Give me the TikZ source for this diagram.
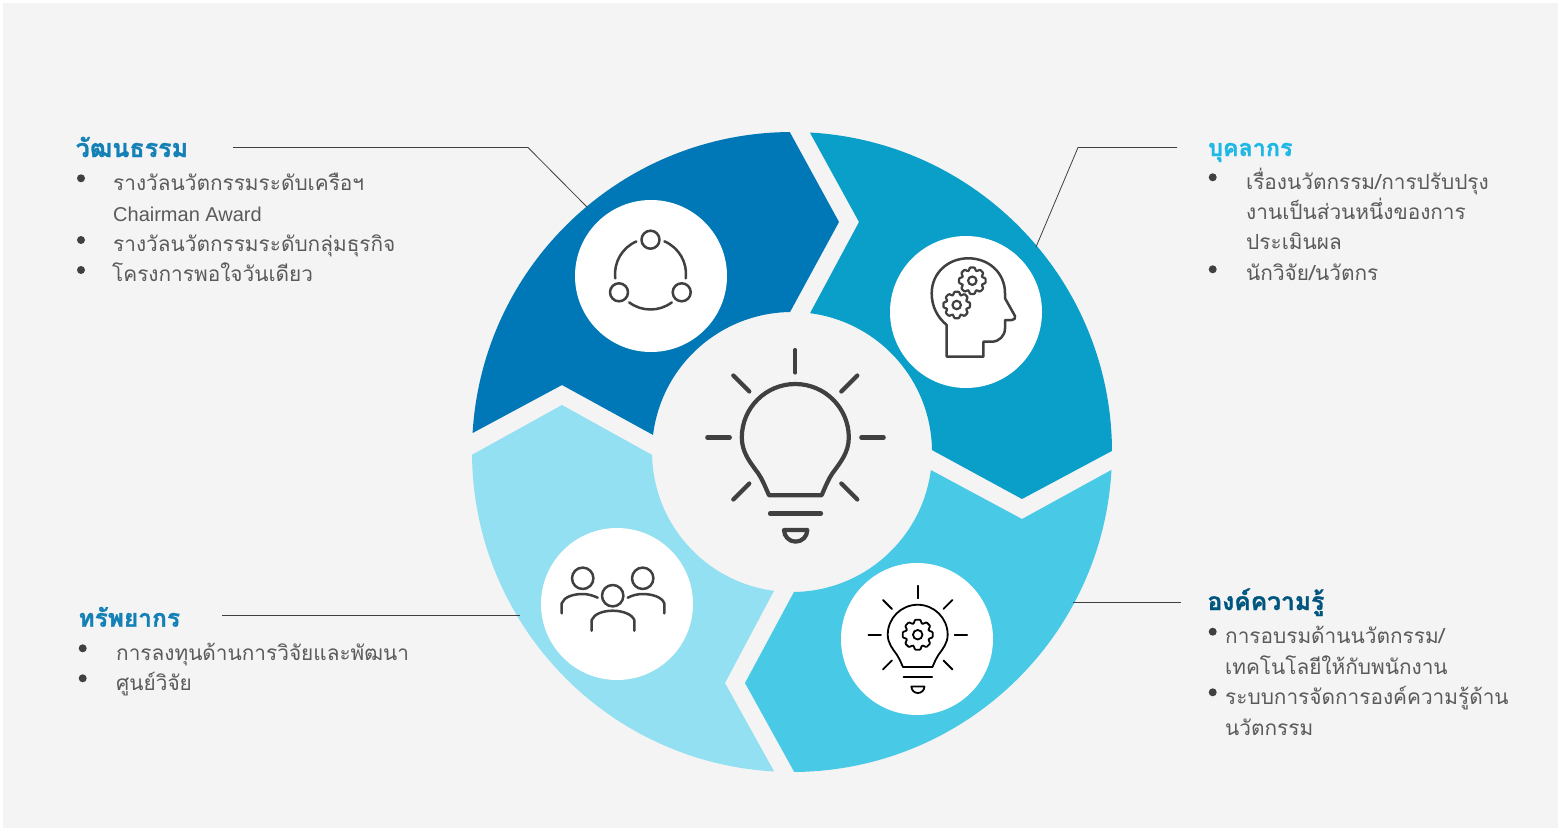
\documentclass[tikz,border=0pt]{standalone}
\usepackage{xcolor}
\usepackage{fontspec}
\setmainfont{Liberation Sans}
\newfontfamily\thaifont[Script=Thai]{Loma}
\newfontfamily\thaihead[Script=Thai,FakeBold=1.2]{Loma Bold}

\definecolor{pagegray}{HTML}{F4F4F4}
\definecolor{icongray}{HTML}{404040}
\definecolor{textgray}{HTML}{5A5A5A}
\definecolor{segdark}{HTML}{0077B6}
\definecolor{segteal}{HTML}{0A9FC9}
\definecolor{seglight}{HTML}{48C9E6}
\definecolor{segpale}{HTML}{92E0F1}
\definecolor{titleblue}{HTML}{1380B6}
\definecolor{titlesky}{HTML}{1DB8E5}
\definecolor{titlenavy}{HTML}{00557F}

\tikzset{
    iconcircle/.style={circle,fill=white,inner sep=0pt,minimum size=152pt},
    iconline/.style={draw=icongray,line width=2.5pt,line cap=round,line join=round},
    leader/.style={draw=icongray,line width=0.8pt},
    headtext/.style={anchor=base west,inner sep=0pt,font=\thaihead\fontsize{#1}{#1}\selectfont},
    itemtext/.style={anchor=base west,inner sep=0pt,text=textgray,font=\thaifont\fontsize{20.8}{20.8}\selectfont},
    bulletdot/.style={circle,fill=icongray,inner sep=0pt,minimum size=8pt},
    gearicon/.pic={
        \draw[line join=round,rounded corners=0.8pt] (-20:10.5)
            \foreach \a in {0,45,...,315} {
                -- ({\a-20}:10.5) -- ({\a-10}:13.5) -- ({\a+10}:13.5) -- ({\a+20}:10.5)
            } -- cycle;
        \draw (0,0) circle (4.2);
    },
    bulbicon/.pic={
        \draw (0,-87.5) -- (0,-65);
        \draw (-88,0) -- (-65.5,0);
        \draw (66,0) -- (88.4,0);
        \foreach \sx/\sy in {-1/-1,1/-1,-1/1,1/1}
            \draw (\sx*46,\sy*46) -- (\sx*62,\sy*62);
        \draw (-26.3,57.8) .. controls (-31,47) and (-33,42) .. (-37,36)
            .. controls (-45,25) and (-53.5,15) .. (-53.5,0)
            arc[start angle=180,end angle=360,radius=53.5]
            .. controls (53.5,15) and (45,25) .. (37,36)
            .. controls (33,42) and (31,47) .. (26.3,57.8) -- cycle;
        \draw (-25.3,76) -- (25.7,76);
        \draw (-11.3,92.5) -- (12,92.5) arc[start angle=0,end angle=180,radius=11.65] -- cycle;
    }
}

\begin{document}
\begin{tikzpicture}[x=1pt,y=-1pt]
            \useasboundingbox (0,0) rectangle (1560,830);
            \fill[white] (0,0) rectangle (1560,830);
            \fill[pagegray] (3,3) rectangle (1558,828);

            % ring segments, measured from the hub centre
            \begin{scope}[shift={(792,452)}]
                \fill[segdark] (183.4:320) arc[start angle=183.4,end angle=269.6,radius=320]
                    -- (47,-230) -- (269.2:140) arc[start angle=269.2,end angle=187,radius=140]
                    -- (-230,-67) -- cycle;
                \fill[segteal] (273.2:320) arc[start angle=273.2,end angle=359.8,radius=320]
                    -- (230,47) -- (359.2:140) arc[start angle=359.2,end angle=277.4,radius=140]
                    -- (67,-230) -- cycle;
                \fill[seglight] (3.2:320) arc[start angle=3.2,end angle=89.6,radius=320]
                    -- (-47,231) -- (89.2:140) arc[start angle=89.2,end angle=7.4,radius=140]
                    -- (230,67) -- cycle;
                \fill[segpale] (93.2:320) arc[start angle=93.2,end angle=179.5,radius=320]
                    -- (-230,-47) -- (178.8:140) arc[start angle=178.8,end angle=97.4,radius=140]
                    -- (-67,231) -- cycle;
            \end{scope}

            \node (cultureicon) at (651,276) [iconcircle] {};
            \node (peopleicon) at (966,312) [iconcircle] {};
            \node (knowledgeicon) at (917,639) [iconcircle] {};
            \node (resourceicon) at (617,604) [iconcircle] {};

            % centre bulb
            \pic[color=icongray,line width=4.2pt,line cap=round,line join=round] at (795.3,437.5) {bulbicon};

            % three linked circles
            \begin{scope}[iconline]
                \draw (650.5,239.7) circle (9);
                \draw (619,292.3) circle (9);
                \draw (681.7,292.3) circle (9);
                \draw (650.5,274) ++(173:35.5) arc[start angle=173,end angle=246.5,radius=35.5];
                \draw (650.5,274) ++(293:35.5) arc[start angle=293,end angle=367,radius=35.5];
                \draw (650.5,274) ++(53.2:35.5) arc[start angle=53.2,end angle=126.8,radius=35.5];
            \end{scope}

            % head with gears
            \begin{scope}[iconline]
                \draw (946.7,356.7) -- (946.7,325)
                    .. controls (937,317) and (931.7,306) .. (931.7,293.3)
                    .. controls (931.7,273) and (948,258.3) .. (968.3,258.3)
                    .. controls (989,258.3) and (1005,273) .. (1005,293.3)
                    -- (1005,298.3) -- (1015,316)
                    .. controls (1016,318.5) and (1014,320) .. (1011.7,320)
                    -- (1005,320) -- (1005,328.3)
                    .. controls (1005,336) and (999,341.7) .. (991.7,341.7)
                    -- (983.3,341.7) -- (983.3,356.7) -- cycle;
            \end{scope}
            \pic[color=icongray,line width=2.2pt] at (972.3,280.7) {gearicon};
            \pic[color=icongray,line width=2.2pt] at (956.7,305) {gearicon};

            % small bulb with gear
            \pic[scale=0.56,color=black,line width=1.8pt,line cap=round,line join=round] at (917.7,634.7) {bulbicon};
            \pic[scale=1.13,color=black,line width=1.8pt] at (917.7,634.7) {gearicon};

            % three people
            \begin{scope}[iconline]
                \draw (582.7,578.3) circle (10.7);
                \draw (642.7,578.3) circle (10.7);
                \draw (612.7,595.7) circle (10.7);
                \draw (561.7,613.3) -- (561.7,603.3) .. controls (564,597) and (573,594) .. (582.7,594)
                    .. controls (588,594) and (593,595.5) .. (597.7,597.7);
                \draw (664.3,613.3) -- (664.3,603.3) .. controls (662,597) and (652,594) .. (642.7,594)
                    .. controls (637,594) and (632,595.5) .. (627.7,597.7);
                \draw (591.7,630.7) -- (591.7,620) .. controls (594,614) and (603,610.7) .. (612.7,610.7)
                    .. controls (622,610.7) and (632,614) .. (634.3,620) -- (634.3,630.7);
            \end{scope}

            % headings and lists
            \node (culturetitle) at (75.5,157) [headtext=25,text=titleblue] {วัฒนธรรม};
            \node (culturea) at (113,190) [itemtext] {รางวัลนวัตกรรมระดับเครือฯ};
            \node (cultureb) at (113,221) [itemtext,font=\fontsize{20}{20}\selectfont] {Chairman Award};
            \node (culturec) at (113,251.7) [itemtext] {รางวัลนวัตกรรมระดับกลุ่มธุรกิจ};
            \node (cultured) at (112,281.7) [itemtext] {โครงการพอใจวันเดียว};
            \node (dota) at (81,178.3) [bulletdot] {};
            \node (dotb) at (81,240) [bulletdot] {};
            \node (dotc) at (81,270) [bulletdot] {};

            \node (peopletitle) at (1208,156) [headtext=23.3,text=titlesky] {บุคลากร};
            \node (peoplea) at (1246,189.3) [itemtext] {เรื่องนวัตกรรม/การปรับปรุง};
            \node (peopleb) at (1246,219.3) [itemtext] {งานเป็นส่วนหนึ่งของการ};
            \node (peoplec) at (1246,249.3) [itemtext] {ประเมินผล};
            \node (peopled) at (1246,280) [itemtext] {นักวิจัย/นวัตกร};
            \node (dotd) at (1212.7,177.3) [bulletdot] {};
            \node (dote) at (1212.7,269.3) [bulletdot] {};

            \node (knowledgetitle) at (1207.3,610) [headtext=24.6,text=titlenavy] {องค์ความรู้};
            \node (knowledgea) at (1225,643.3) [itemtext] {การอบรมด้านนวัตกรรม/};
            \node (knowledgeb) at (1225,674.3) [itemtext] {เทคโนโลยีให้กับพนักงาน};
            \node (knowledgec) at (1225,704.3) [itemtext] {ระบบการจัดการองค์ความรู้ด้าน};
            \node (knowledged) at (1225,735) [itemtext] {นวัตกรรม};
            \node (dotf) at (1212.7,631.7) [bulletdot] {};
            \node (dotg) at (1212.7,692.3) [bulletdot] {};

            \node (resourcetitle) at (78.3,626.7) [headtext=24.5,text=titleblue] {ทรัพยากร};
            \node (resourcea) at (116,660) [itemtext] {การลงทุนด้านการวิจัยและพัฒนา};
            \node (resourceb) at (116,690) [itemtext] {ศูนย์วิจัย};
            \node (doth) at (82.7,648.3) [bulletdot] {};
            \node (doti) at (82.7,678.3) [bulletdot] {};

            % leader lines
            \coordinate (culturestart) at (233,147.5);
            \coordinate (culturebend) at (528,147.5);
            \coordinate (cultureend) at (587,207);
            \coordinate (peoplestart) at (1177,147.5);
            \coordinate (peoplebend) at (1078,147.5);
            \coordinate (peopleend) at (1036,247);
            \coordinate (knowledgestart) at (1181,602.5);
            \coordinate (knowledgeend) at (1073,602.5);
            \coordinate (resourcestart) at (222,615.5);
            \coordinate (resourceend) at (520,615.5);
            \draw[leader] (culturestart) -- (culturebend) -- (cultureend);
            \draw[leader] (peoplestart) -- (peoplebend) -- (peopleend);
            \draw[leader] (knowledgestart) -- (knowledgeend);
            \draw[leader] (resourcestart) -- (resourceend);
        \end{tikzpicture}
\end{document}
